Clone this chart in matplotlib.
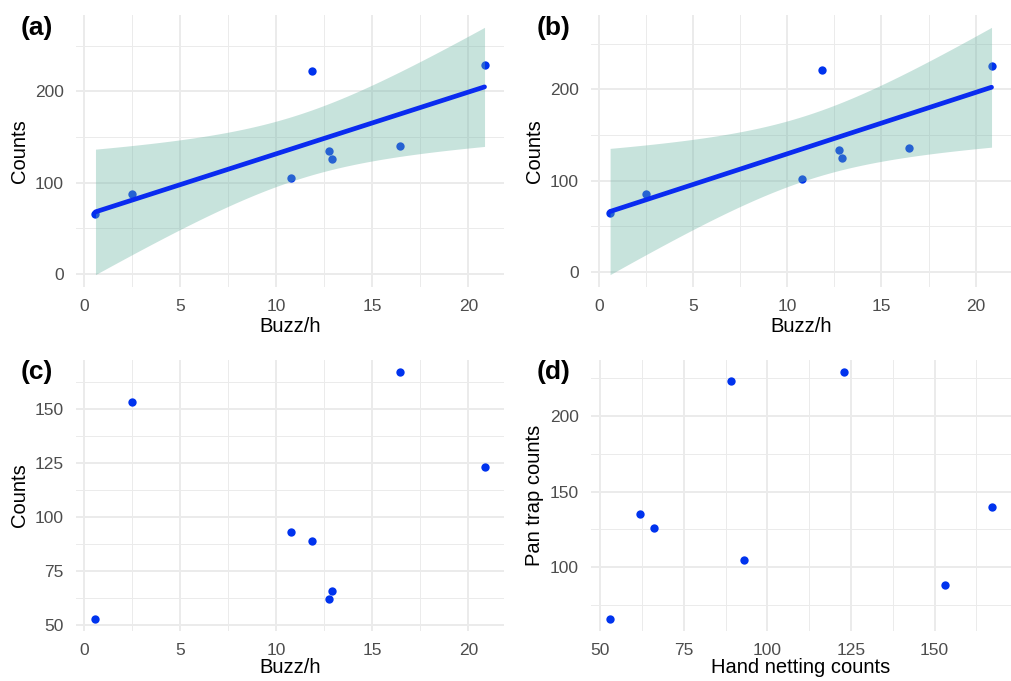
import numpy as np
import matplotlib
matplotlib.use("Agg")
import matplotlib.pyplot as plt
from matplotlib.ticker import MultipleLocator

plt.rcParams["font.family"] = ["Liberation Sans", "DejaVu Sans"]

# site-level data (8 sites)
buzz_rate = [0.6, 2.48, 10.78, 11.85, 12.74, 12.93, 16.46, 20.84]
pan_trap = [66, 88, 105, 223, 135, 126, 140, 229]
pan_trap_b = [65, 85, 102, 221, 134, 125, 136, 226]
hand_netting = [53, 153, 93, 89, 62, 66, 167, 123]

POINT_COL = "#0033ee"
LINE_COL = "#0a2bf0"
BAND_COL = "#69b3a2"
GRID_COL = "#ebebeb"
T_975_DF6 = 2.446912  # t quantile, 95% CI with n - 2 = 6 df


def lm_band(x, y, n=80):
    x = np.asarray(x, float)
    y = np.asarray(y, float)
    mx = x.mean()
    sxx = np.sum((x - mx) ** 2)
    slope = np.sum((x - mx) * (y - y.mean())) / sxx
    icpt = y.mean() - slope * mx
    resid = y - (icpt + slope * x)
    s = np.sqrt(np.sum(resid ** 2) / (len(x) - 2))
    xs = np.linspace(x.min(), x.max(), n)
    fit = icpt + slope * xs
    se = s * np.sqrt(1 / len(x) + (xs - mx) ** 2 / sxx)
    return xs, fit, fit - T_975_DF6 * se, fit + T_975_DF6 * se


def expand(lo, hi, f=0.05):
    pad = (hi - lo) * f
    return lo - pad, hi + pad


def style(ax, xstep, ystep, xlabel, ylabel, xpad=2):
    for s in ax.spines.values():
        s.set_visible(False)
    ax.xaxis.set_major_locator(MultipleLocator(xstep))
    ax.yaxis.set_major_locator(MultipleLocator(ystep))
    ax.xaxis.set_minor_locator(MultipleLocator(xstep / 2))
    ax.yaxis.set_minor_locator(MultipleLocator(ystep / 2))
    ax.grid(which="major", color=GRID_COL, lw=1.4)
    ax.grid(which="minor", color=GRID_COL, lw=0.7)
    ax.set_axisbelow(True)
    ax.tick_params(which="both", length=0, labelsize=12.5,
                   labelcolor="#4d4d4d", pad=9)
    ax.set_xlabel(xlabel, fontsize=14.5, labelpad=xpad)
    ax.set_ylabel(ylabel, fontsize=14.5, labelpad=4)


def smooth_panel(ax, x, y):
    xs, fit, lo, hi = lm_band(x, y)
    ax.scatter(x, y, s=36, color=POINT_COL, zorder=2, linewidths=0)
    ax.fill_between(xs, lo, hi, color=BAND_COL, alpha=0.37, lw=0, zorder=3)
    ax.plot(xs, fit, color=LINE_COL, lw=3.4, zorder=4, solid_capstyle="round")
    ax.set_xlim(*expand(min(x), max(x)))
    ax.set_ylim(*expand(min(lo.min(), min(y)), max(hi.max(), max(y))))


fig = plt.figure(figsize=(10.11, 6.81), dpi=100)
ax_a = fig.add_axes([0.0752, 0.5786, 0.4233, 0.3994])
ax_b = fig.add_axes([0.5846, 0.5786, 0.4150, 0.3994])
ax_c = fig.add_axes([0.0752, 0.0735, 0.4233, 0.3980])
ax_d = fig.add_axes([0.5846, 0.0735, 0.4150, 0.3980])

smooth_panel(ax_a, buzz_rate, pan_trap)
style(ax_a, 5, 100, "Buzz/h", "Counts")

smooth_panel(ax_b, buzz_rate, pan_trap_b)
style(ax_b, 5, 100, "Buzz/h", "Counts")

ax_c.scatter(buzz_rate, hand_netting, s=36, color=POINT_COL, linewidths=0)
ax_c.set_xlim(*expand(min(buzz_rate), max(buzz_rate)))
ax_c.set_ylim(*expand(min(hand_netting), max(hand_netting)))
style(ax_c, 5, 25, "Buzz/h", "Counts", xpad=0)

ax_d.scatter(hand_netting, pan_trap, s=36, color=POINT_COL, linewidths=0)
ax_d.set_xlim(*expand(min(hand_netting), max(hand_netting)))
ax_d.set_ylim(*expand(min(pan_trap), max(pan_trap)))
style(ax_d, 25, 50, "Hand netting counts", "Pan trap counts", xpad=0)

# panel tags
for tag, (px, py) in {"(a)": (37, 28), "(b)": (554, 28),
                      "(c)": (37, 372), "(d)": (554, 372)}.items():
    fig.text(px / 1011, 1 - py / 681, tag, fontsize=19, fontweight="bold",
             ha="center", va="center")

fig.savefig("out.png", dpi=100)
